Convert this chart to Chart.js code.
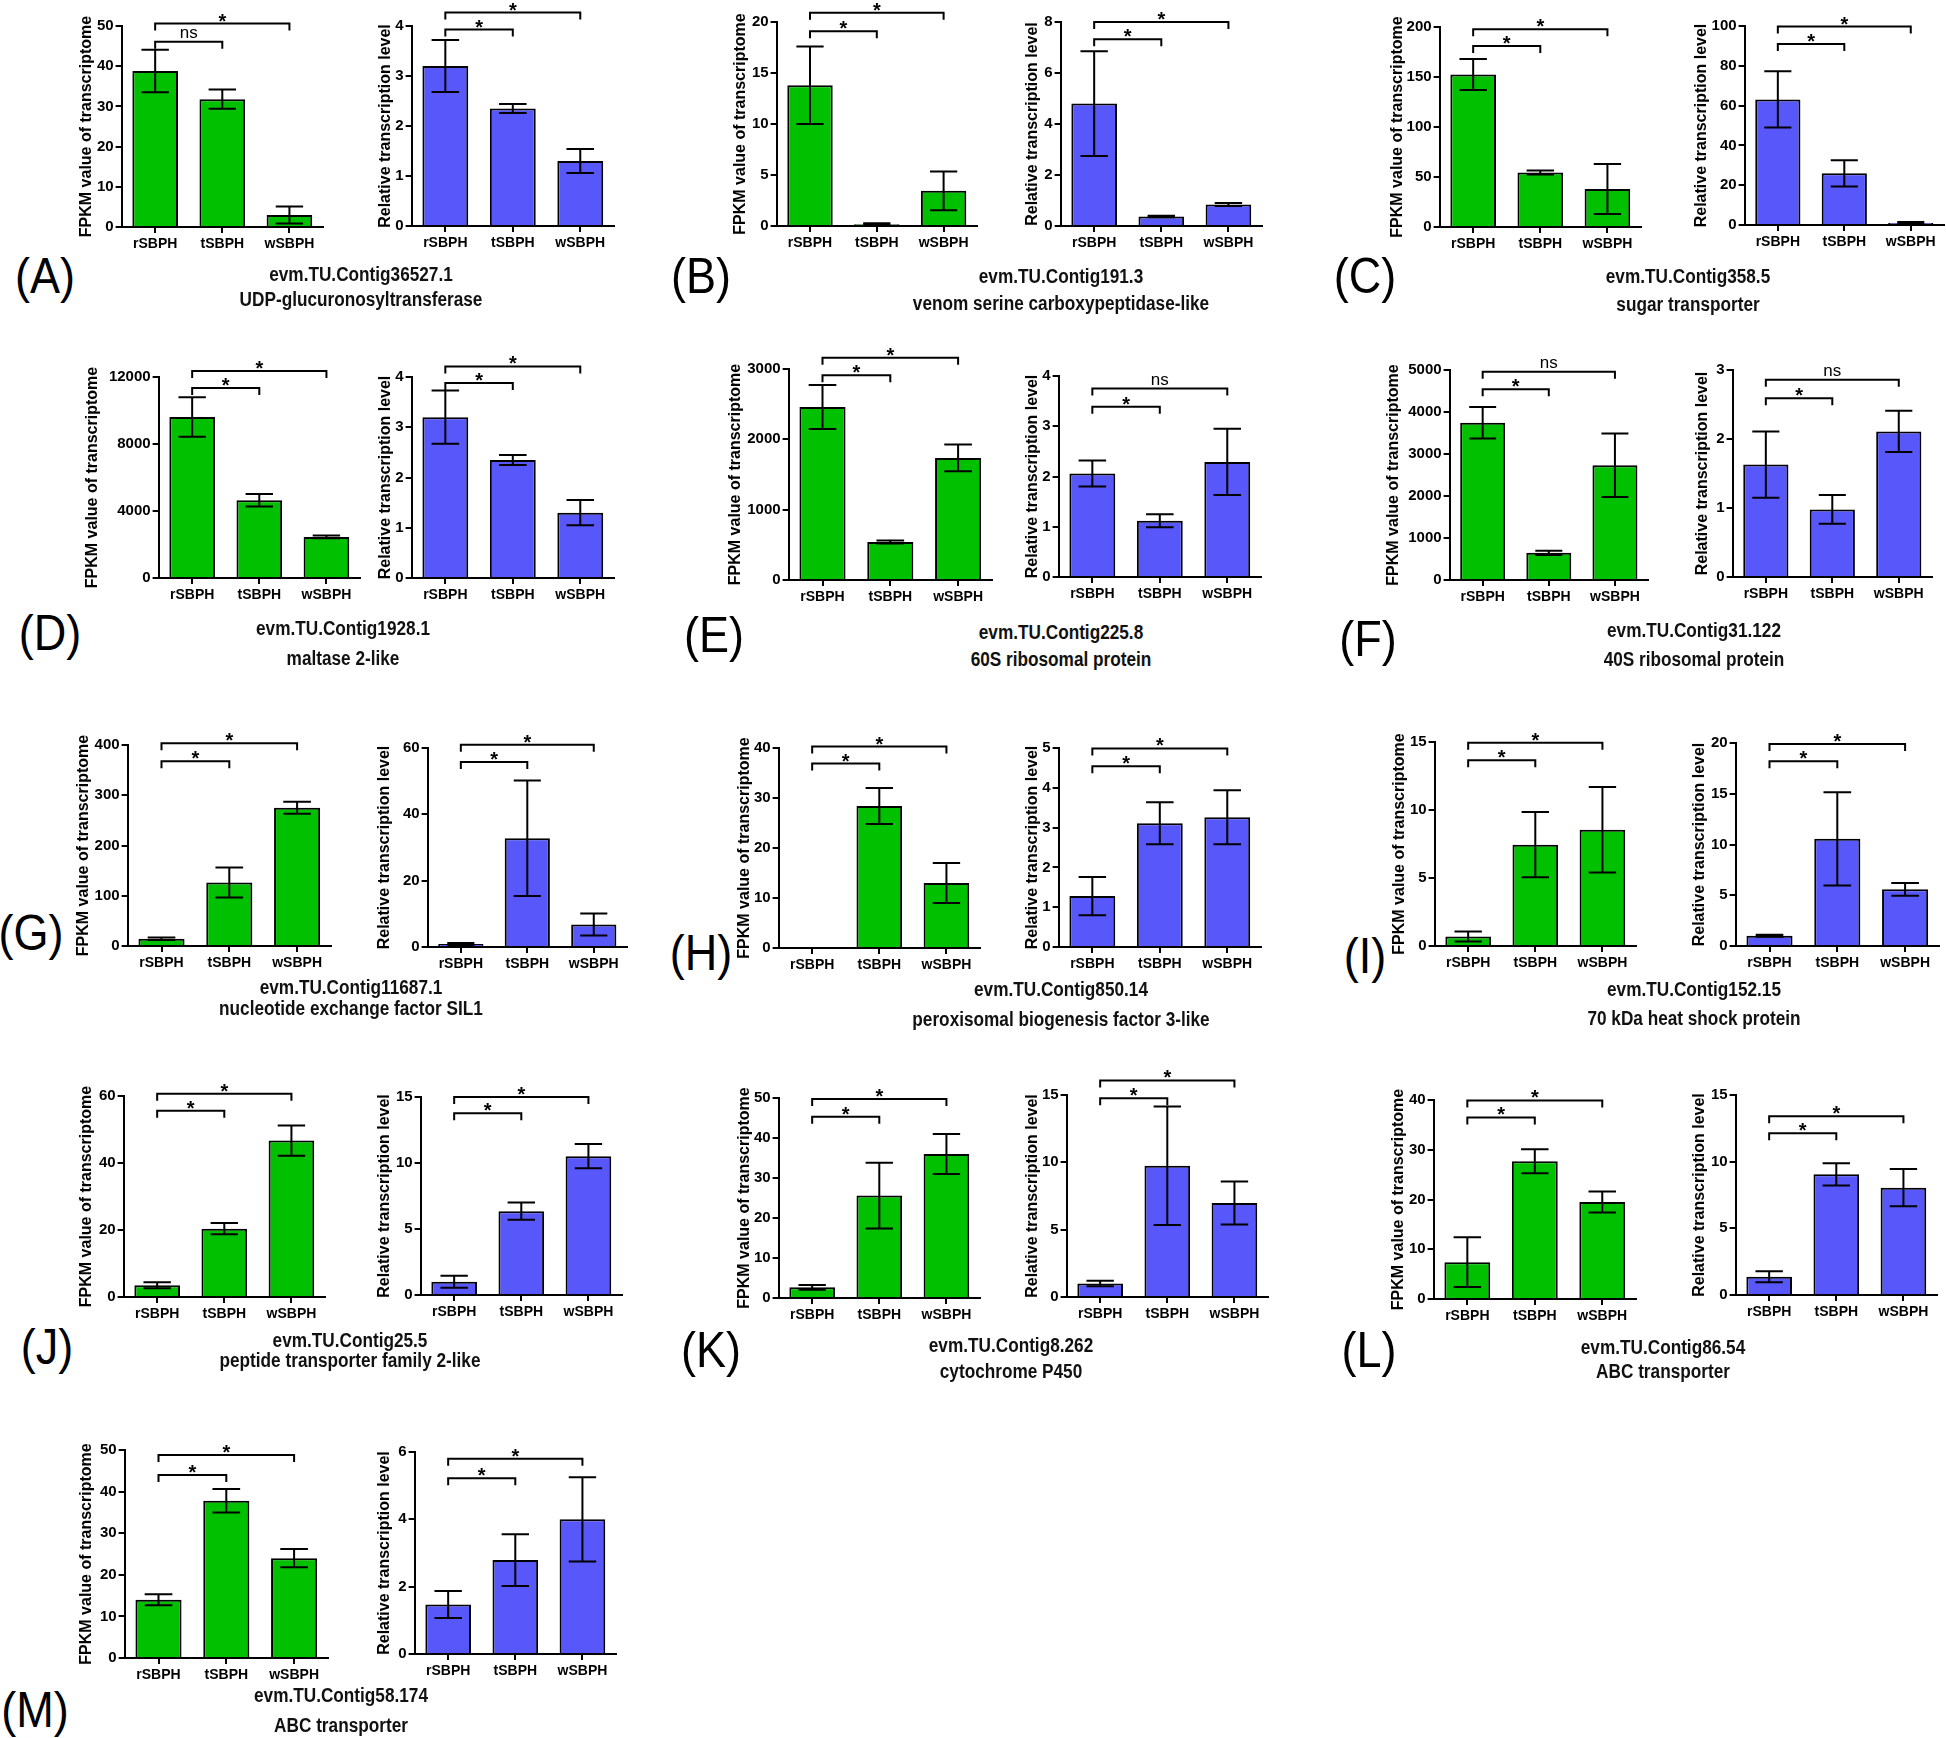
<!DOCTYPE html>
<html>
<head>
<meta charset="utf-8">
<script src="https://cdn.jsdelivr.net/npm/chart.js@4.4.0/dist/chart.umd.min.js"></script>
<style>
  body { margin: 0; background: #fff; }
  #fig { position: relative; width: 1946px; height: 1738px; overflow: hidden; background: #fff; }
  #fig canvas { position: absolute; }
  .letter { position: absolute; font-family: 'Liberation Sans', Arial, sans-serif; font-size: 50px; line-height: 1; transform: translate(-50%, -50%) scaleX(0.9); }
  .gene { position: absolute; font-family: 'Liberation Sans', Arial, sans-serif; font-weight: bold; font-size: 20px; line-height: 1; white-space: nowrap; transform: translate(-50%, -50%) scaleX(0.86); color: #111; }
</style>
</head>
<body>
<div id="fig"></div>
<script>
/*global Chart*/

// ---- data ----
const groups      = [ 'rSBPH', 'tSBPH', 'wSBPH' ];
const letters     = [ 'A', 'B', 'C', 'D', 'E', 'F', 'G', 'H', 'I', 'J', 'K', 'L', 'M' ];
const geneIds     = [ 'evm.TU.Contig36527.1', 'evm.TU.Contig191.3', 'evm.TU.Contig358.5', 'evm.TU.Contig1928.1',
                      'evm.TU.Contig225.8', 'evm.TU.Contig31.122', 'evm.TU.Contig11687.1', 'evm.TU.Contig850.14',
                      'evm.TU.Contig152.15', 'evm.TU.Contig25.5', 'evm.TU.Contig8.262', 'evm.TU.Contig86.54',
                      'evm.TU.Contig58.174' ];
const geneNames   = [ 'UDP-glucuronosyltransferase', 'venom serine carboxypeptidase-like', 'sugar transporter',
                      'maltase 2-like', '60S ribosomal protein', '40S ribosomal protein', 'nucleotide exchange factor SIL1',
                      'peroxisomal biogenesis factor 3-like', '70 kDa heat shock protein', 'peptide transporter family 2-like',
                      'cytochrome P450', 'ABC transporter', 'ABC transporter' ];

// transcriptome (FPKM), green charts
const fpkmMax   = [ 50, 20, 200, 12000, 3000, 5000, 400, 40, 15, 60, 50, 40, 50 ];
const fpkmStep  = [ 10, 5, 50, 4000, 1000, 1000, 100, 10, 5, 20, 10, 10, 10 ];
const fpkmMean  = [ [38.8, 31.8, 3.0], [13.8, 0.17, 3.45], [152.6, 54.6, 38.1], [9610, 4640, 2450],
                    [2460, 540, 1735], [3746, 648, 2733], [14.5, 126.3, 275], [0, 28.4, 13.0],
                    [0.7, 7.45, 8.55], [3.5, 20.4, 46.7], [2.66, 25.6, 36.0], [7.4, 27.7, 19.5],
                    [14.0, 37.8, 24.0] ];
const fpkmErr   = [ [5.3, 2.4, 2.1], [3.8, 0.1, 1.9], [15.5, 2.0, 25.0], [1180, 370, 80],
                    [312, 20, 190], [374, 50, 755], [2.5, 30, 12], [0, 3.6, 4.0],
                    [0.36, 2.4, 3.15], [0.9, 1.7, 4.5], [0.6, 8.2, 5.0], [5.0, 2.4, 2.1],
                    [1.3, 2.8, 2.2] ];
const fpkmSig   = [ ['ns','*'], ['*','*'], ['*','*'], ['*','*'], ['*','*'], ['*','ns'], ['*','*'],
                    ['*','*'], ['*','*'], ['*','*'], ['*','*'], ['*','*'], ['*','*'] ];
const fpkmSigAt = [ [46.1, 50.6], [19.1, 20.9], [181, 197.7], [11340, 12360], [2911, 3159], [4543, 4958],
                    [367.6, 403.3], [36.9, 40.3], [13.65, 14.95], [55.6, 60.7], [45.3, 49.75], [36.5, 39.9],
                    [44.0, 48.8] ];

// qPCR (relative level), blue charts
const qpcrMax   = [ 4, 8, 100, 4, 4, 3, 60, 5, 20, 15, 15, 15, 6 ];
const qpcrStep  = [ 1, 2, 20, 1, 1, 1, 20, 1, 5, 5, 5, 5, 2 ];
const qpcrMean  = [ [3.20, 2.35, 1.30], [4.8, 0.37, 0.84], [63.1, 26.0, 1.0], [3.20, 2.35, 1.30],
                    [2.06, 1.12, 2.29], [1.63, 0.98, 2.11], [0.9, 32.8, 6.8], [1.28, 3.11, 3.26],
                    [1.0, 10.56, 5.58], [1.0, 6.35, 10.52], [1.0, 9.75, 6.98], [1.37, 9.05, 8.05],
                    [1.47, 2.79, 4.0] ];
const qpcrErr   = [ [0.52, 0.09, 0.24], [2.05, 0.03, 0.06], [14.1, 6.6, 0.5], [0.53, 0.1, 0.25],
                    [0.26, 0.13, 0.66], [0.48, 0.21, 0.30], [0.3, 17.4, 3.3], [0.48, 0.53, 0.68],
                    [0.1, 4.6, 0.63], [0.45, 0.65, 0.92], [0.2, 4.4, 1.6], [0.42, 0.83, 1.4],
                    [0.4, 0.77, 1.25] ];
const qpcrSig   = [ ['*','*'], ['*','*'], ['*','*'], ['*','*'], ['*','ns'], ['*','ns'], ['*','*'],
                    ['*','*'], ['*','*'], ['*','*'], ['*','*'], ['*','*'], ['*','*'] ];
const qpcrSigAt = [ [3.93, 4.27], [7.32, 8.0], [91, 99.7], [3.88, 4.21], [3.39, 3.75], [2.59, 2.86],
                    [55.8, 61.0], [4.54, 4.99], [18.2, 19.9], [13.76, 15.0], [14.75, 16.08], [12.14, 13.4],
                    [5.22, 5.8] ];

// ---- layout (page px): [axis x, axis right end, y of top tick, y of zero, y-title centre x] ----
const boxFpkm = [ [122,323,26,227,87], [777,977,22,226,741], [1440,1641,27,227,1398], [159,360,377,578,93],
                  [789,992,369,580,736], [1450,1648,370,580,1394], [128,331,745,946,84], [779,980,748,948,745],
                  [1435,1636,742,946,1400], [124,325,1096,1297,87], [779,980,1098,1298,745], [1434,1636,1100,1299,1399],
                  [125,328,1450,1658,87] ];
const boxQpcr = [ [412,614,26,226,386], [1061,1262,22,226,1033], [1745,1944,26,225,1702], [412,614,377,578,386],
                  [1059,1261,376,577,1033], [1733,1932,370,577,1703], [428,627,748,947,385], [1059,1261,748,947,1033],
                  [1736,1939,743,946,1700], [421,622,1097,1295,385], [1067,1268,1095,1297,1033], [1736,1937,1095,1295,1700],
                  [415,616,1452,1654,385] ];
const letterPos = [ [45,276], [701,276], [1365,276], [50,633], [714,635], [1368,639], [31,933],
                    [701,953], [1365,956], [47,1347], [711,1350], [1369,1350], [35,1710] ];
const genePos   = [ [361,274,299], [1061,276,303], [1688,276,304], [343,628,658], [1061,632,659], [1694,630,659],
                    [351,987,1008], [1061,989,1019], [1694,989,1018], [350,1340,1360], [1011,1345,1371],
                    [1663,1347,1371], [341,1695,1725] ];

const GREEN  = '#00C000';
const BLUE   = '#5757FA';
const FONT   = "'Liberation Sans', Arial, sans-serif";

const fig = document.getElementById( 'fig' );

// error bars + significance brackets
const yk_err_plugin = {
    id: 'errbars',
    afterDatasetsDraw( chart ) {
        const ctx  = chart.ctx;
        const y    = chart.scales.y;
        const meta = chart.getDatasetMeta( 0 );
        const ds   = chart.data.datasets[ 0 ];

        ctx.save();
        ctx.strokeStyle = '#000';
        ctx.fillStyle   = '#000';
        ctx.lineWidth   = 2;

        meta.data.forEach( function( bar, i ) {
            const e = ds.err[ i ];
            if ( ! e ) {
                return;
            }
            const v  = ds.data[ i ];
            const yt = y.getPixelForValue( v + e );
            const yb = y.getPixelForValue( Math.max( v - e, 0 ) );
            const cw = bar.width * 0.3;
            ctx.beginPath();
            ctx.moveTo( bar.x, yt ); ctx.lineTo( bar.x, yb );
            ctx.moveTo( bar.x - cw, yt ); ctx.lineTo( bar.x + cw, yt );
            ctx.moveTo( bar.x - cw, yb ); ctx.lineTo( bar.x + cw, yb );
            ctx.stroke();
        });

        // brackets rSBPH-tSBPH and rSBPH-wSBPH
        [ 1, 2 ].forEach( function( j, k ) {
            const x1 = meta.data[ 0 ].x;
            const x2 = meta.data[ j ].x;
            const yb = y.getPixelForValue( ds.sigAt[ k ] );
            ctx.beginPath();
            ctx.moveTo( x1, yb + 7 ); ctx.lineTo( x1, yb ); ctx.lineTo( x2, yb ); ctx.lineTo( x2, yb + 7 );
            ctx.stroke();

            const txt = ds.sig[ k ];
            ctx.textAlign    = 'center';
            ctx.textBaseline = 'alphabetic';
            if ( '*' === txt ) {
                ctx.font = 'bold 20px ' + FONT;
                ctx.fillText( txt, ( x1 + x2 ) / 2, yb + 4 );
            } else {
                ctx.font = '17px ' + FONT;
                ctx.fillText( txt, ( x1 + x2 ) / 2, yb - 4 );
            }
        });

        ctx.restore();
    }
};

function yk_make_chart( box, mean, err, yMax, yStep, sig, sigAt, color, yTitle ) {

    const axisX = box[ 0 ], rightX = box[ 1 ], topY = box[ 2 ], botY = box[ 3 ], titleX = box[ 4 ];
    const padTop = 50, xH = 40, padR = 6;
    const yW     = axisX - titleX + 9.6;
    const left   = Math.round( axisX - yW );
    const top    = Math.round( topY - padTop );
    const w      = Math.round( rightX + padR - left );
    const h      = Math.round( botY + xH - top );

    const cv = document.createElement( 'canvas' );
    cv.width  = w;
    cv.height = h;
    cv.style.left   = left + 'px';
    cv.style.top    = top + 'px';
    cv.style.width  = w + 'px';
    cv.style.height = h + 'px';
    fig.appendChild( cv );

    return new Chart( cv, {
        type: 'bar',
        data: {
            labels: groups,
            datasets: [{
                data: mean,
                err: err,
                sig: sig,
                sigAt: sigAt,
                backgroundColor: color,
                borderColor: '#000',
                borderWidth: 2,
                barPercentage: 0.68,
                categoryPercentage: 1
            }]
        },
        options: {
            responsive: false,
            animation: false,
            events: [],
            layout: { padding: { top: padTop, right: padR, left: 0, bottom: 0 } },
            plugins: { legend: { display: false }, tooltip: { enabled: false } },
            scales: {
                x: {
                    grid: { drawOnChartArea: false, offset: false, color: '#000', lineWidth: 2, tickLength: 6 },
                    border: { color: '#000', width: 2 },
                    ticks: { color: '#000', padding: 3, font: { family: FONT, size: 14, weight: 'bold' } },
                    afterFit: function( s ) { s.height = xH; }
                },
                y: {
                    min: 0,
                    max: yMax,
                    grid: { drawOnChartArea: false, color: '#000', lineWidth: 2, tickLength: 6 },
                    border: { color: '#000', width: 2 },
                    ticks: {
                        stepSize: yStep, color: '#000', padding: 2,
                        font: { family: FONT, size: 15, weight: 'bold' },
                        callback: function( v ) { return String( v ); }
                    },
                    title: { display: true, text: yTitle, color: '#000', padding: 0, font: { family: FONT, size: 16, weight: 'bold' } },
                    afterFit: function( s ) { s.width = yW; }
                }
            }
        },
        plugins: [ yk_err_plugin ]
    });
}

letters.forEach( function( letter, i ) {

    yk_make_chart( boxFpkm[ i ], fpkmMean[ i ], fpkmErr[ i ], fpkmMax[ i ], fpkmStep[ i ],
                   fpkmSig[ i ], fpkmSigAt[ i ], GREEN, 'FPKM value of transcriptome' );
    yk_make_chart( boxQpcr[ i ], qpcrMean[ i ], qpcrErr[ i ], qpcrMax[ i ], qpcrStep[ i ],
                   qpcrSig[ i ], qpcrSigAt[ i ], BLUE, 'Relative transcription level' );

    const l = document.createElement( 'div' );
    l.className   = 'letter';
    l.textContent = '(' + letter + ')';
    l.style.left  = letterPos[ i ][ 0 ] + 'px';
    l.style.top   = letterPos[ i ][ 1 ] + 'px';
    fig.appendChild( l );

    [ geneIds[ i ], geneNames[ i ] ].forEach( function( txt, k ) {
        const g = document.createElement( 'div' );
        g.className   = 'gene';
        g.textContent = txt;
        g.style.left  = genePos[ i ][ 0 ] + 'px';
        g.style.top   = genePos[ i ][ k + 1 ] + 'px';
        fig.appendChild( g );
    });
});
</script>
</body>
</html>
